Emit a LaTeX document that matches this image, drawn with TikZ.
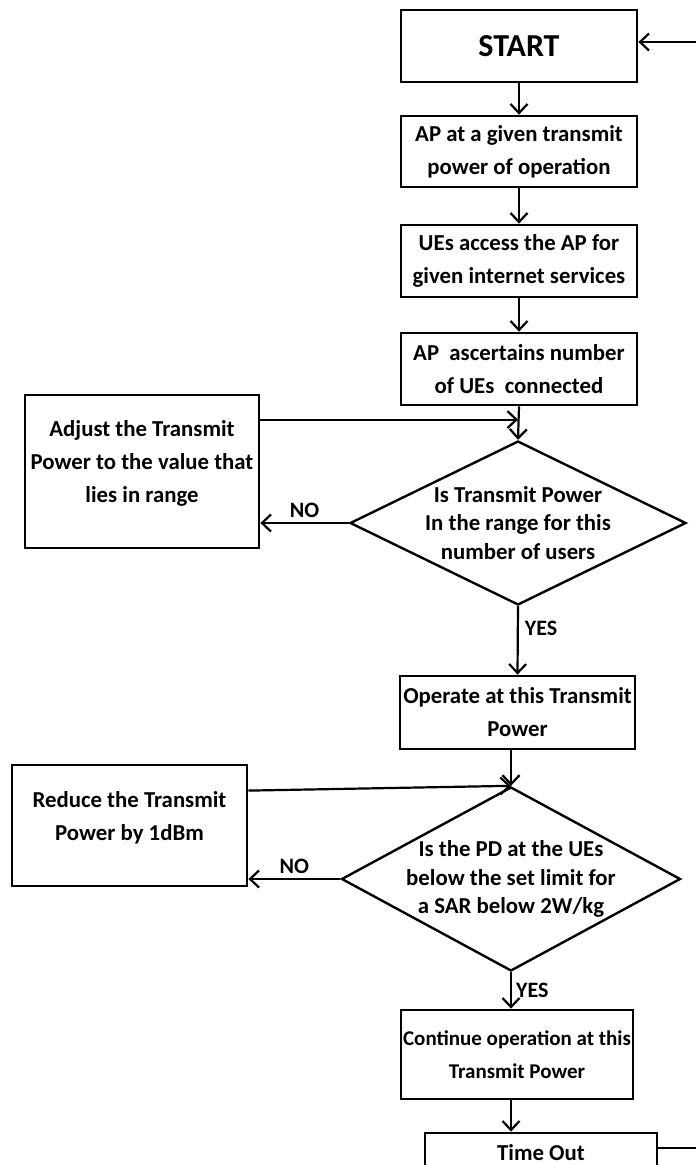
\documentclass[tikz,border=0pt]{standalone}
\usepackage{fontspec}
\setmainfont{Carlito}
\usetikzlibrary{positioning,arrows.meta,shapes.geometric,calc}

\begin{document}
\begin{tikzpicture}[
  x=1pt, y=-1pt,
  box/.style={rectangle, draw=black, line width=2.8pt, minimum width=#1,
    align=center, inner sep=2pt, font=\fontsize{22.8}{33}\selectfont\bfseries},
  decision/.style={diamond, draw=black, line width=2.4pt, inner sep=0pt,
    minimum width=336, minimum height=164},
  qtext/.style={align=center, inner sep=0pt, font=\fontsize{22.8}{28.5}\selectfont\bfseries},
  lab/.style={inner sep=4pt, font=\fontsize{22}{24}\selectfont\bfseries},
  arrow/.style={-{Straight Barb[length=9pt,width=17pt]}, line width=2.2pt, color=black},
  plain/.style={line width=2.2pt, color=black}
]
\useasboundingbox (0,0) rectangle (696,1165);
\clip (0,0) rectangle (696,1165);

% Main column
\node[box=236, minimum height=72, font=\fontsize{32}{40}\selectfont\bfseries] (start) at (519,46) {START};
\node[box=236, minimum height=71] (power) at (519,151.5) {AP at a given transmit\\power of operation};
\node[box=236, minimum height=72] (access) at (519,261) {UEs access the AP for\\given internet services};
\node[box=236, minimum height=72] (count) at (519,369) {AP\ \ ascertains number\\of UEs\ \ connected};

% First check
\node[decision] (range) at (518,523) {};
\node[qtext] (rangeq) at (range) {Is Transmit Power\\In the range for this\\number of users};
\node[box=234, minimum height=153] (adjust) at (142,471.5) {Adjust the Transmit\\Power to the value that\\lies in range\\[-12pt]};

\node[box=235, minimum height=73] (operate) at (517.5,712.5) {Operate at this Transmit\\Power};

% Second check
\node[decision, minimum width=339, minimum height=184] (limit) at (511,879) {};
\node[qtext] (limitq) at (limit) {Is the PD at the UEs\\below the set limit for\\a SAR below 2W/kg};
\node[box=235, minimum height=121] (reduce) at (129.5,825.5) {Reduce the Transmit\\Power by 1dBm\\[-14pt]};

% Bottom
\node[box=228, minimum height=89, font=\fontsize{21}{33}\selectfont\bfseries] (cont) at (517,1054.5) {Continue operation at this\\Transmit Power};
\node[box=232, minimum height=40] (timeout) at (541,1153) {Time Out};

% Loop ends at the edge
\coordinate (loopin) at (696,42);
\coordinate (loopout) at (696,1148);
\coordinate (j1) at ([yshift=-26pt]adjust.north east);
\coordinate (j2) at ([yshift=-27pt]reduce.north east);

% Arrows
\draw[arrow] (loopin) -- (loopin -| start.east);
\draw[arrow] (start) -- (power);
\draw[arrow] (power) -- (access);
\draw[arrow] (access) -- (count);
\draw[arrow] (count.south) -- (range.north);
\draw[arrow] (j1) -- (j1 -| range.north);
\draw[arrow] (range.west) -- (range.west -| adjust.east) node[lab, above, midway] (no1) {NO};
\draw[arrow] (range.south) -- (operate.north) node[lab, right=2pt, pos=0.33] (yes1) {YES};
\draw[arrow] (operate.south -| limit.north) -- (limit.north);
\draw[arrow] (j2) -- (limit.north);
\draw[arrow] (limit.west) -- (limit.west -| reduce.east) node[lab, above, midway] (no2) {NO};
\draw[arrow] (limit.south) -- (limit.south |- cont.north) node[lab, right, midway] (yes2) {YES};
\draw[arrow] (cont.south -| limit.south) -- (limit.south |- timeout.north);
\draw[plain] (timeout.east |- loopout) -- (loopout);

\end{tikzpicture}
\end{document}
